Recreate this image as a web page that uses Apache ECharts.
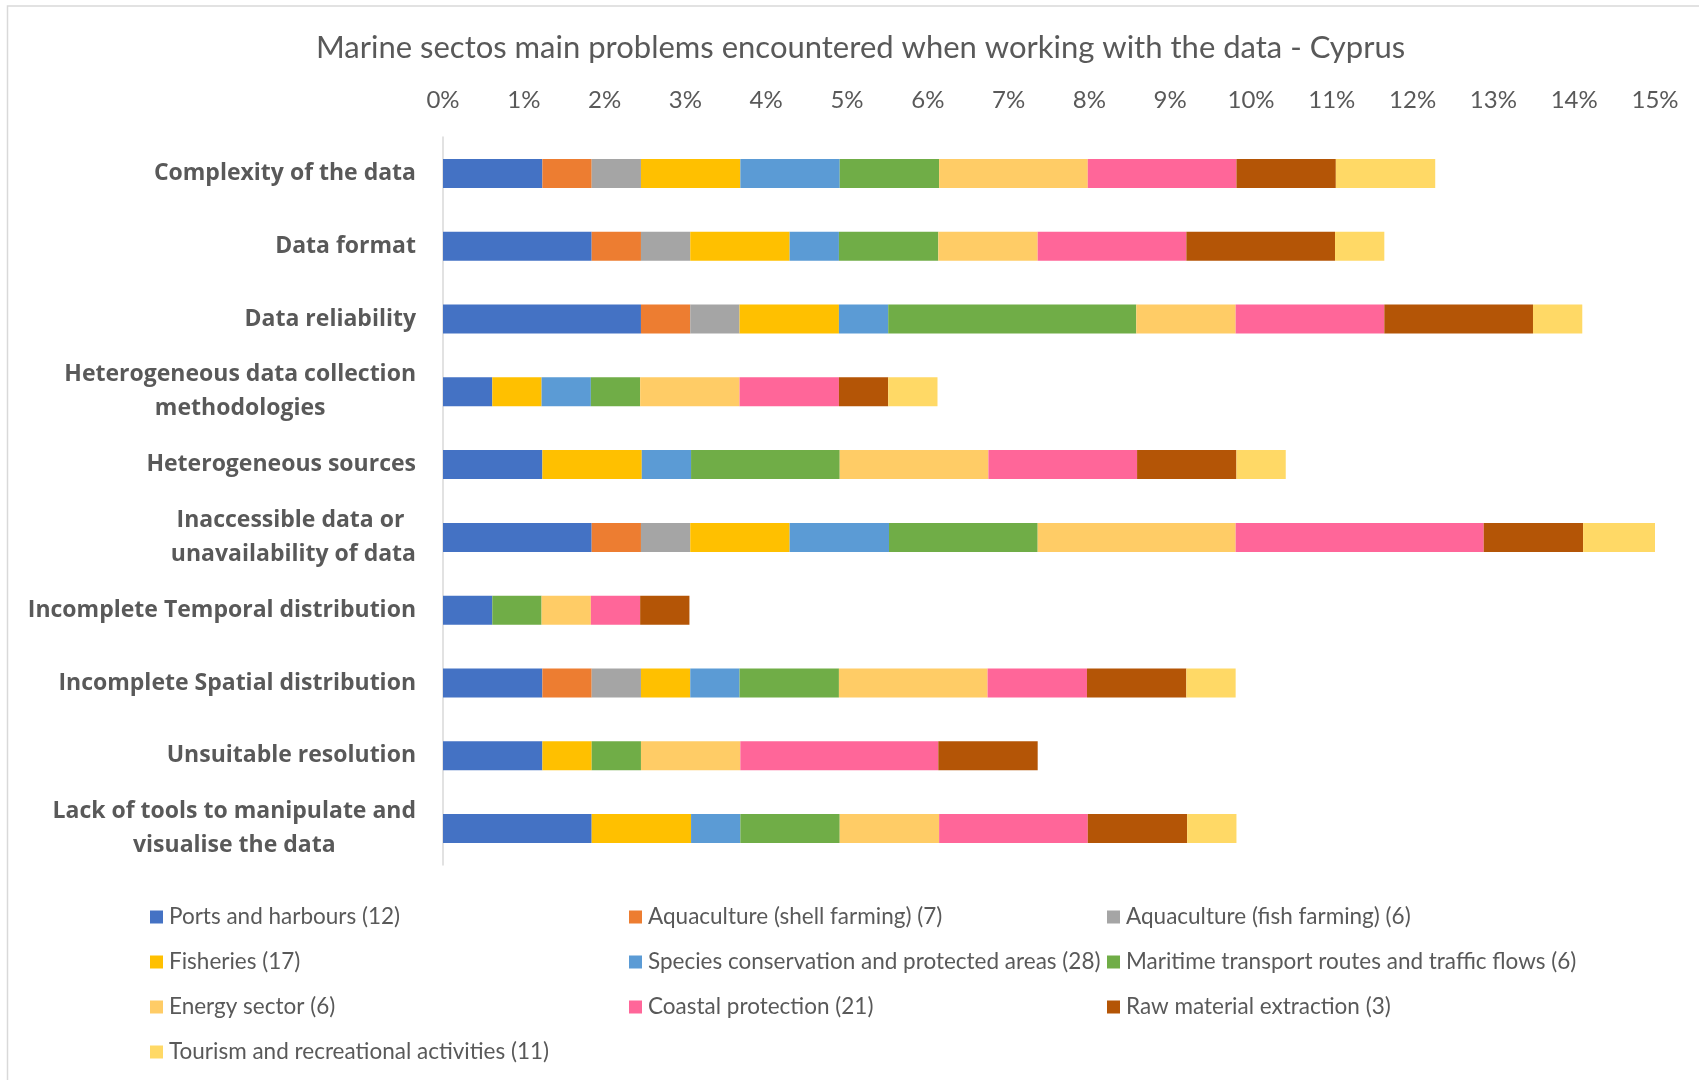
<!DOCTYPE html>
<html>
<head>
<meta charset="utf-8">
<title>Marine sectors - Cyprus</title>
<script src="https://cdn.jsdelivr.net/npm/echarts@6/dist/echarts.min.js"></script>
<style>
  html, body { margin: 0; padding: 0; background: #ffffff; }
  #chart { width: 1699px; height: 1080px; }
</style>
</head>
<body>
<div id="chart"></div>
<script>
// Problem categories (top to bottom); line breaks follow the wrapped labels
const categories = [
  'Complexity of the data',
  'Data format',
  'Data reliability',
  'Heterogeneous data collection\nmethodologies',
  'Heterogeneous sources',
  'Inaccessible data or \nunavailability of data',
  'Incomplete Temporal distribution',
  'Incomplete Spatial distribution',
  'Unsuitable resolution',
  'Lack of tools to manipulate and\nvisualise the data'
];

// Share of answers (%) per marine sector, one value per category above
const portsHarbours      = [1.23, 1.84, 2.45, 0.61, 1.23, 1.84, 0.61, 1.23, 1.23, 1.84];
const shellFarming       = [0.61, 0.61, 0.61, 0,    0,    0.61, 0,    0.61, 0,    0   ];
const fishFarming        = [0.61, 0.61, 0.61, 0,    0,    0.61, 0,    0.61, 0,    0   ];
const fisheries          = [1.23, 1.23, 1.23, 0.61, 1.23, 1.23, 0,    0.61, 0.61, 1.23];
const speciesProtected   = [1.23, 0.61, 0.61, 0.61, 0.61, 1.23, 0,    0.61, 0,    0.61];
const maritimeTransport  = [1.23, 1.23, 3.07, 0.61, 1.84, 1.84, 0.61, 1.23, 0.61, 1.23];
const energySector       = [1.84, 1.23, 1.23, 1.23, 1.84, 2.45, 0.61, 1.84, 1.23, 1.23];
const coastalProtection  = [1.84, 1.84, 1.84, 1.23, 1.84, 3.07, 0.61, 1.23, 2.45, 1.84];
const rawMaterial        = [1.23, 1.84, 1.84, 0.61, 1.23, 1.23, 0.61, 1.23, 1.23, 1.23];
const tourismRecreation  = [1.23, 0.61, 0.61, 0.61, 0.61, 1.23, 0,    0.61, 0,    0.61];

const seriesNames = [
  'Ports and harbours (12)',
  'Aquaculture (shell farming) (7)',
  'Aquaculture (fish farming) (6)',
  'Fisheries (17)',
  'Species conservation and protected areas (28)',
  'Maritime transport routes and traffic flows (6)',
  'Energy sector (6)',
  'Coastal protection (21)',
  'Raw material extraction (3)',
  'Tourism and recreational activities (11)'
];
const seriesValues = [
  portsHarbours, shellFarming, fishFarming, fisheries, speciesProtected,
  maritimeTransport, energySector, coastalProtection, rawMaterial, tourismRecreation
];
const seriesColors = [
  '#4472C4', '#ED7D31', '#A5A5A5', '#FFC000', '#5B9BD5',
  '#70AD47', '#FFCC66', '#FF6699', '#B45506', '#FFD966'
];

// x axis ticks: 0% .. 15%
const axisMin = 0, axisMax = 15, axisStep = 1;

const textGrey = '#595959';
const chart = echarts.init(document.getElementById('chart'), null, { renderer: 'canvas' });

const series = seriesNames.map((name, i) => ({
  name: name,
  type: 'bar',
  stack: 'total',
  barWidth: 29,
  itemStyle: { color: seriesColors[i] },
  emphasis: { disabled: true },
  data: seriesValues[i]
}));

// legend laid out as three columns, filled row by row
const legendColumns = [
  [0, 3, 6, 9],
  [1, 4, 7],
  [2, 5, 8]
];
const legendLefts = [145, 624, 1102];
const legends = legendColumns.map((idx, c) => ({
  orient: 'vertical',
  left: legendLefts[c],
  top: 900,
  itemWidth: 13,
  itemHeight: 13,
  itemGap: 21,
  icon: 'rect',
  selectedMode: false,
  textStyle: { fontFamily: 'Lato', fontSize: 22.5, color: textGrey, lineHeight: 24, padding: [0, 0, 0, 1] },
  data: idx.map(i => seriesNames[i])
}));

const option = {
  backgroundColor: '#ffffff',
  animation: false,
  title: {
    text: 'Marine sectos main problems encountered when working with the data - Cyprus',
    left: 311,
    top: 27,
    textStyle: { fontFamily: 'Lato', fontWeight: 'normal', fontSize: 31, color: textGrey }
  },
  legend: legends,
  grid: { left: 443, right: 44, top: 137, bottom: 215, containLabel: false },
  xAxis: {
    type: 'value',
    position: 'top',
    min: axisMin,
    max: axisMax,
    interval: axisStep,
    axisLine: { show: false },
    axisTick: { show: false },
    splitLine: { show: false },
    axisLabel: {
      formatter: '{value}%',
      fontFamily: 'Lato',
      fontSize: 24,
      color: textGrey,
      margin: 25
    }
  },
  yAxis: {
    type: 'category',
    inverse: true,
    data: categories,
    axisLine: { show: true, lineStyle: { color: '#D9D9D9', width: 1.5 } },
    axisTick: { show: false },
    axisLabel: {
      margin: 27,
      interval: 0,
      formatter: v => v.split('\n').map(l => '{c|' + l + '}').join('\n'),
      rich: {
        c: {
          align: 'center',
          fontFamily: 'Open Sans',
          fontWeight: 'bold',
          fontSize: 23,
          lineHeight: 34,
          color: textGrey
        }
      }
    }
  },
  graphic: [{
    type: 'rect',
    silent: true,
    shape: { x: 7.5, y: 6, width: 2000, height: 2000 },
    style: { fill: 'none', stroke: '#D9D9D9', lineWidth: 1.5 }
  }],
  series: series
};

chart.setOption(option);
</script>
</body>
</html>
